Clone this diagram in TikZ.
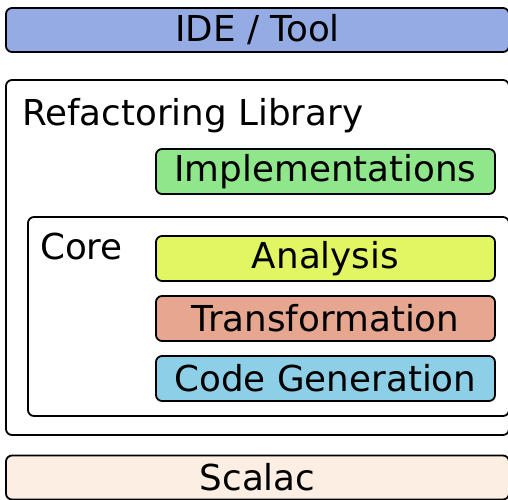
\documentclass[tikz,border=0pt]{standalone}
\usepackage{fontspec}
\setmainfont{DejaVu Sans}
\usepackage{xcolor}
\usepackage{tikz}
\usetikzlibrary{positioning, calc}
\definecolor{toolblue}{RGB}{149,171,227}
\definecolor{implgreen}{RGB}{144,230,138}
\definecolor{anayellow}{RGB}{226,245,98}
\definecolor{transred}{RGB}{230,166,143}
\definecolor{genblue}{RGB}{142,207,232}
\definecolor{scalacpeach}{RGB}{253,238,227}

\begin{document}
\begin{tikzpicture}[x=1pt, y=-1pt, node distance=13.2pt,
    layer/.style={rectangle, draw, line width=1.8pt, rounded corners=6pt, minimum width=503pt, minimum height=44pt, inner sep=0pt, font=\fontsize{35.7}{40}\selectfont},
    part/.style={rectangle, draw, line width=1.8pt, rounded corners=6pt, minimum width=339pt, minimum height=45pt, inner sep=0pt, font=\fontsize{35.7}{40}\selectfont},
    frame/.style={draw, line width=1.8pt, rounded corners=6pt},
    title/.style={anchor=base west, inner sep=0pt, font=\fontsize{35.7}{40}\selectfont}]

    \useasboundingbox (0,0) rectangle (508,499);

    % outer layers
    \node[layer, fill=toolblue] (ide) at (257.5,30) {IDE / Tool};
    \node[layer, fill=scalacpeach] (scalac) at (257.5,477.5) {Scalac};

    % library and core frames
    \draw[frame] (6,80) rectangle (509,435);
    \node[title] (libtitle) at (22,125) {Refactoring Library};
    \draw[frame] (28,217) rectangle (509,416);
    \node[title] (coretitle) at (40,259) {Core};

    % parts
    \node[part, fill=implgreen] (impl) at (325.5,171.5) {Implementations};
    \node[part, fill=anayellow] (ana) at (325.5,258.5) {Analysis};
    \node[part, fill=transred, below=of ana] (trans) {Transformation};
    \node[part, fill=genblue, below=of trans] (gen) {Code Generation};
\end{tikzpicture}
\end{document}
